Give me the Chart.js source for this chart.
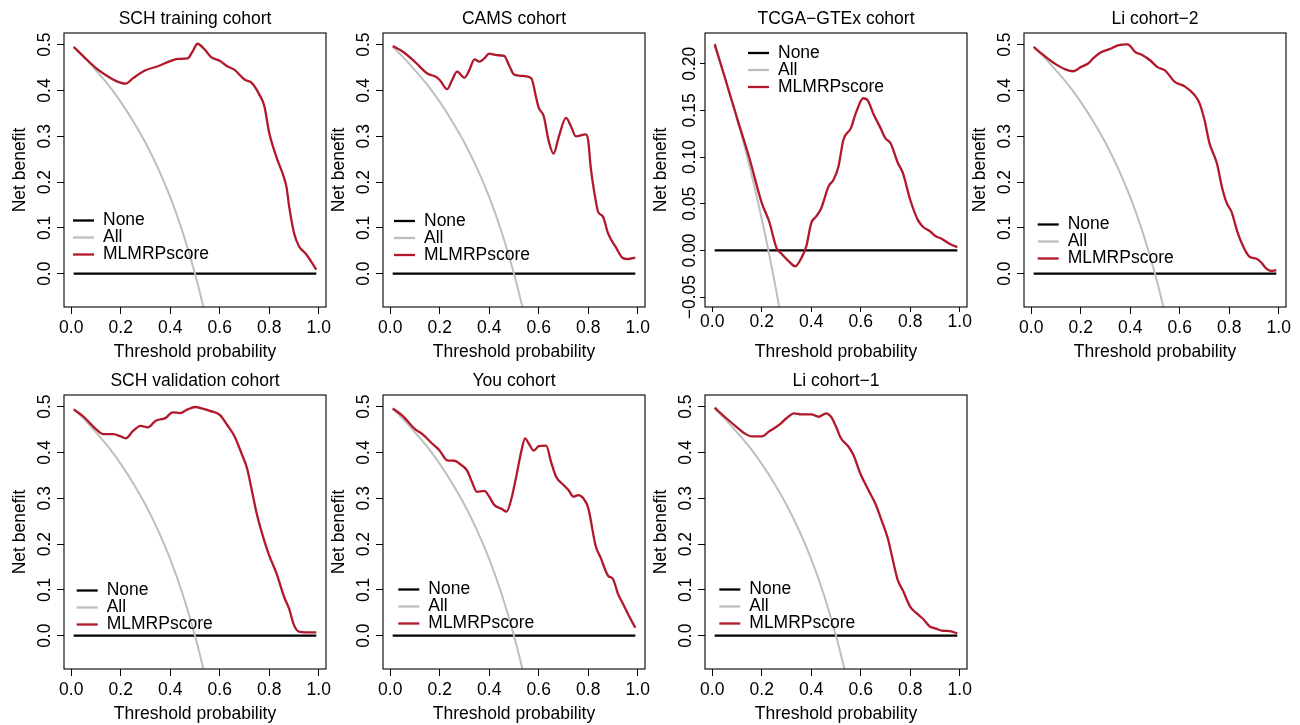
<!DOCTYPE html>
<html><head><meta charset="utf-8">
<script src="https://cdn.jsdelivr.net/npm/chart.js@4.4.1/dist/chart.umd.min.js"></script>
<style>
html,body{margin:0;padding:0;background:#fff;}
#wrap{position:relative;width:1300px;height:725px;overflow:hidden;background:#fff;}
canvas{position:absolute;}
</style></head><body><div id="wrap"></div>
<script>
// ---------- data ----------
const xTicks = [0, 0.2, 0.4, 0.6, 0.8, 1.0];
const xTickLabels = ['0.0', '0.2', '0.4', '0.6', '0.8', '1.0'];
const yTicksMain = [0, 0.1, 0.2, 0.3, 0.4, 0.5];
const yLabelsMain = ['0.0', '0.1', '0.2', '0.3', '0.4', '0.5'];
const yTicksTcga = [-0.05, 0, 0.05, 0.10, 0.15, 0.20];
const yLabelsTcga = ['\u22120.05', '0.00', '0.05', '0.10', '0.15', '0.20'];

const seriesNames = ['None', 'All', 'MLMRPscore'];

const noneX = [0.01, 0.99];
const noneY = [0, 0];

const allX = [0.01, 0.05, 0.10, 0.15, 0.20, 0.25, 0.30, 0.35, 0.40, 0.45, 0.50, 0.53, 0.56];
const allY = [0.495, 0.474, 0.444, 0.412, 0.375, 0.333, 0.286, 0.231, 0.167, 0.091, 0.000, -0.064, -0.136];

const tcgaAllX = [0.01, 0.05, 0.10, 0.15, 0.20, 0.25, 0.30];
const tcgaAllY = [0.219, 0.186, 0.141, 0.091, 0.034, -0.031, -0.104];

const schTrainX = [0.01,0.05,0.10,0.15,0.18,0.22,0.25,0.30,0.35,0.40,0.43,0.47,0.49,0.51,0.54,0.565,0.60,0.63,0.66,0.70,0.73,0.76,0.78,0.80,0.83,0.86,0.87,0.88,0.90,0.92,0.95,0.99];
const schTrainY = [0.495,0.474,0.449,0.430,0.421,0.415,0.427,0.444,0.453,0.464,0.469,0.470,0.485,0.502,0.489,0.473,0.465,0.453,0.445,0.424,0.416,0.391,0.366,0.307,0.253,0.209,0.188,0.148,0.089,0.060,0.042,0.009];

const camsX = [0.01,0.05,0.10,0.15,0.18,0.20,0.23,0.25,0.27,0.30,0.32,0.34,0.36,0.38,0.40,0.43,0.46,0.48,0.50,0.53,0.57,0.59,0.60,0.62,0.64,0.66,0.68,0.71,0.73,0.75,0.79,0.80,0.81,0.83,0.84,0.86,0.88,0.91,0.94,0.96,0.99];
const camsY = [0.497,0.485,0.4625,0.437,0.431,0.423,0.403,0.423,0.441,0.428,0.445,0.468,0.463,0.470,0.4805,0.477,0.4755,0.455,0.435,0.432,0.4265,0.383,0.362,0.344,0.290,0.262,0.297,0.340,0.322,0.300,0.304,0.290,0.232,0.160,0.135,0.124,0.088,0.059,0.034,0.032,0.035];

const tcgaX = [0.01,0.05,0.10,0.15,0.20,0.23,0.26,0.28,0.31,0.335,0.36,0.38,0.40,0.42,0.44,0.47,0.49,0.51,0.53,0.56,0.58,0.61,0.63,0.65,0.68,0.70,0.72,0.75,0.77,0.80,0.83,0.85,0.88,0.90,0.93,0.96,0.99];
const tcgaY = [0.221,0.186,0.142,0.099,0.051,0.031,0.0025,-0.0036,-0.0118,-0.017,-0.0082,0.0043,0.0293,0.0364,0.045,0.0686,0.0757,0.090,0.1186,0.131,0.147,0.163,0.160,0.147,0.131,0.120,0.115,0.0936,0.083,0.054,0.033,0.0257,0.0204,0.0157,0.012,0.0068,0.0036];

const li2X = [0.01,0.05,0.10,0.14,0.17,0.20,0.23,0.25,0.28,0.32,0.35,0.39,0.42,0.45,0.48,0.51,0.54,0.58,0.62,0.66,0.68,0.70,0.72,0.75,0.77,0.79,0.81,0.83,0.85,0.88,0.91,0.93,0.95,0.97,0.99];
const li2Y = [0.495,0.477,0.457,0.4457,0.442,0.451,0.459,0.470,0.483,0.491,0.4986,0.5007,0.484,0.477,0.466,0.451,0.444,0.419,0.409,0.390,0.372,0.3355,0.285,0.241,0.190,0.154,0.134,0.0964,0.067,0.038,0.0326,0.024,0.011,0.006,0.008];

const schValX = [0.01,0.05,0.10,0.13,0.17,0.20,0.22,0.25,0.28,0.31,0.34,0.38,0.41,0.44,0.47,0.50,0.53,0.56,0.60,0.63,0.66,0.69,0.71,0.73,0.75,0.78,0.80,0.83,0.86,0.88,0.90,0.92,0.95,0.99];
const schValY = [0.494,0.478,0.451,0.440,0.440,0.435,0.431,0.447,0.458,0.455,0.469,0.475,0.4877,0.486,0.494,0.4993,0.496,0.491,0.482,0.460,0.435,0.395,0.366,0.316,0.265,0.207,0.175,0.135,0.0845,0.059,0.023,0.0087,0.0072,0.0072];

const youX = [0.01,0.05,0.10,0.13,0.17,0.20,0.23,0.26,0.28,0.31,0.33,0.35,0.38,0.40,0.42,0.45,0.47,0.49,0.51,0.53,0.545,0.56,0.58,0.60,0.63,0.65,0.67,0.70,0.72,0.74,0.76,0.78,0.80,0.83,0.85,0.88,0.90,0.92,0.94,0.96,0.99];
const youY = [0.4964,0.480,0.451,0.440,0.419,0.404,0.383,0.382,0.3755,0.361,0.336,0.314,0.316,0.3036,0.2856,0.277,0.271,0.300,0.350,0.404,0.431,0.419,0.404,0.4137,0.415,0.379,0.347,0.329,0.318,0.3036,0.307,0.300,0.2784,0.1957,0.1705,0.131,0.1237,0.0914,0.0698,0.048,0.0173];

const li1X = [0.01,0.05,0.10,0.13,0.16,0.20,0.23,0.27,0.30,0.33,0.36,0.40,0.43,0.46,0.48,0.50,0.52,0.55,0.57,0.60,0.63,0.66,0.68,0.71,0.73,0.75,0.77,0.80,0.83,0.85,0.88,0.90,0.93,0.96,0.99];
const li1Y = [0.4978,0.478,0.455,0.442,0.435,0.435,0.446,0.4603,0.4747,0.4855,0.4834,0.4834,0.478,0.4855,0.478,0.4566,0.431,0.413,0.395,0.352,0.319,0.287,0.258,0.211,0.164,0.1207,0.099,0.0629,0.047,0.0376,0.0195,0.016,0.0108,0.0101,0.005];

// ---------- styling / layout ----------
const FONT = '"Liberation Sans", Arial, Helvetica, sans-serif';
const FS = 17.5;
const RED = '#B2182B', GRAY = '#BEBEBE', BLACK = '#000000';
const seriesColors = [BLACK, GRAY, RED];

const panels = [
  {title:'SCH training cohort', x:schTrainX, y:schTrainY, ax:allX, ay:allY, yt:yTicksMain, yl:yLabelsMain, yMin:-0.0727, yMax:0.5255, left:0,   top:0,   lg:{dx:9,  dy:187.5},tl:7, xp:4, yp:0},
  {title:'CAMS cohort',         x:camsX,     y:camsY,     ax:allX, ay:allY, yt:yTicksMain, yl:yLabelsMain, yMin:-0.0727, yMax:0.5255, left:319, top:0,   lg:{dx:11, dy:188},  tl:7, xp:4, yp:0},
  {title:'TCGA\u2212GTEx cohort', x:tcgaX,   y:tcgaY,     ax:tcgaAllX, ay:tcgaAllY, yt:yTicksTcga, yl:yLabelsTcga, yMin:-0.0606, yMax:0.2329, left:641, top:0, lg:{dx:43, dy:20}, tl:5, xp:0, yp:-12},
  {title:'Li cohort\u22122',    x:li2X,      y:li2Y,      ax:allX, ay:allY, yt:yTicksMain, yl:yLabelsMain, yMin:-0.0727, yMax:0.5255, left:960, top:0,   lg:{dx:13.7,dy:191.5},tl:7, xp:4, yp:0},
  {title:'SCH validation cohort', x:schValX, y:schValY,   ax:allX, ay:allY, yt:yTicksMain, yl:yLabelsMain, yMin:-0.0727, yMax:0.5255, left:0,   top:362, lg:{dx:12.7,dy:195.5},tl:7, xp:4, yp:0},
  {title:'You cohort',          x:youX,      y:youY,      ax:allX, ay:allY, yt:yTicksMain, yl:yLabelsMain, yMin:-0.0727, yMax:0.5255, left:319, top:362, lg:{dx:15.3,dy:194.5},tl:7, xp:4, yp:0},
  {title:'Li cohort\u22121',    x:li1X,      y:li1Y,      ax:allX, ay:allY, yt:yTicksMain, yl:yLabelsMain, yMin:-0.0727, yMax:0.5255, left:641, top:362, lg:{dx:14.3,dy:194.5},tl:7, xp:4, yp:0}
];

const zip = (xs, ys) => xs.map((v, i) => ({x: v, y: ys[i]}));

const boxLegendPlugin = {
  id: 'boxLegend',
  afterDatasetsDraw(chart, args, opts) {
    const {ctx, chartArea: a} = chart;
    ctx.save();
    ctx.strokeStyle = '#000';
    ctx.lineWidth = 1.1;
    ctx.strokeRect(a.left, a.top, a.right - a.left, a.bottom - a.top);
    const lg = opts.lg;
    ctx.font = FS + 'px ' + FONT;
    ctx.textBaseline = 'middle';
    ctx.textAlign = 'left';
    seriesNames.forEach((name, i) => {
      const y = a.top + lg.dy + i * 17;
      const x = a.left + lg.dx;
      ctx.strokeStyle = seriesColors[i];
      ctx.lineWidth = 2.3;
      ctx.lineCap = 'butt';
      ctx.beginPath(); ctx.moveTo(x, y); ctx.lineTo(x + 21, y); ctx.stroke();
      ctx.fillStyle = '#000';
      ctx.fillText(name, x + 30, y);
    });
    ctx.restore();
  }
};

Chart.defaults.font.family = FONT;
Chart.defaults.color = '#000';
const wrap = document.getElementById('wrap');

panels.forEach(p => {
  const c = document.createElement('canvas');
  c.width = 340; c.height = 363;
  c.style.left = p.left + 'px';
  c.style.top = p.top + 'px';
  c.style.width = '340px'; c.style.height = '363px';
  wrap.appendChild(c);
  const font = {family: FONT, size: FS, weight: 'normal'};
  new Chart(c, {
    type: 'line',
    data: {
      datasets: [
        {label: seriesNames[2], data: zip(p.x, p.y), borderColor: RED, borderWidth: 2.3, pointRadius: 0, cubicInterpolationMode: 'monotone', fill: false},
        {label: seriesNames[1], data: zip(p.ax, p.ay), borderColor: GRAY, borderWidth: 2.0, pointRadius: 0, cubicInterpolationMode: 'monotone', fill: false},
        {label: seriesNames[0], data: zip(noneX, noneY), borderColor: BLACK, borderWidth: 2.3, pointRadius: 0, tension: 0, fill: false}
      ]
    },
    options: {
      responsive: false, animation: false, devicePixelRatio: 1, events: [],
      layout: {padding: {left: 0, right: 14, top: 0, bottom: 0}},
      plugins: {
        legend: {display: false},
        tooltip: {enabled: false},
        title: {display: true, text: p.title, color: '#000', font: font, padding: {top: 9, bottom: 3}, fullSize: false},
        boxLegend: {lg: p.lg}
      },
      scales: {
        x: {
          type: 'linear', min: -0.0292, max: 1.0292,
          afterBuildTicks: s => { s.ticks = xTicks.map(v => ({value: v})); },
          afterFit: s => { s.height = 56; },
          grid: {display: true, drawOnChartArea: false, drawTicks: true, tickLength: p.tl, color: '#000', lineWidth: 1},
          border: {display: false},
          ticks: {color: '#000', font: font, padding: p.xp, minRotation: 0, maxRotation: 0, autoSkip: false, callback: (v, i) => xTickLabels[i]},
          title: {display: true, text: 'Threshold probability', color: '#000', font: font, padding: {top: 0, bottom: 0}}
        },
        y: {
          type: 'linear', min: p.yMin, max: p.yMax,
          afterBuildTicks: s => { s.ticks = p.yt.map(v => ({value: v})); },
          afterFit: s => { s.width = 64; },
          grid: {display: true, drawOnChartArea: false, drawTicks: true, tickLength: p.tl, color: '#000', lineWidth: 1},
          border: {display: false},
          ticks: {color: '#000', font: font, padding: p.yp, minRotation: 90, maxRotation: 90, crossAlign: 'center', autoSkip: false, callback: (v, i) => p.yl[i]},
          title: {display: true, text: 'Net benefit', color: '#000', font: font, padding: {top: 10, bottom: 0}}
        }
      }
    },
    plugins: [boxLegendPlugin]
  });
});
</script>
</body></html>
